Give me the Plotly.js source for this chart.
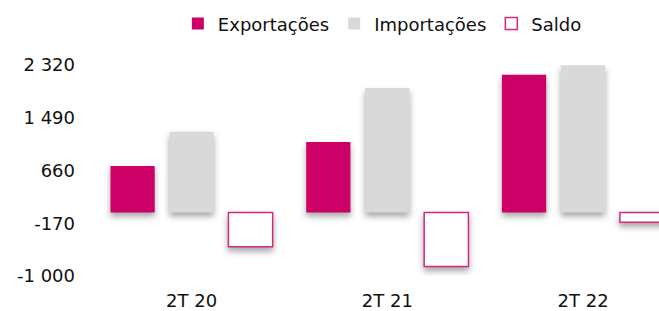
<!DOCTYPE html>
<html>
<head>
<meta charset="utf-8">
<script src="https://cdn.plot.ly/plotly-3.0.1.min.js"></script>
<style>
html,body{margin:0;padding:0;background:#fff;}
#chart{width:659px;height:311px;}
.barlayer .point path{filter:drop-shadow(0px 4px 3px rgba(0,0,0,0.35));}
</style>
</head>
<body>
<div id="chart"></div>
<script>
const categories = ['2T 20', '2T 21', '2T 22'];
const exportacoes = [730, 1110, 2165];
const importacoes = [1270, 1960, 2318];
const saldo = [-540, -850, -153];
const yTickVals = [-1000, -170, 660, 1490, 2320];
const yTickText = ['-1 000', '-170', '660', '1 490', '2 320'];

const font = {family: 'DejaVu Sans, Verdana, sans-serif', size: 18, color: '#111'};

const data = [
  {type: 'bar', name: 'Exportações', x: categories, y: exportacoes,
   marker: {color: '#CC0066', line: {width: 0}}, hoverinfo: 'skip'},
  {type: 'bar', name: 'Importações', x: categories, y: importacoes,
   marker: {color: '#D9D9D9', line: {width: 0}}, hoverinfo: 'skip'},
  {type: 'bar', name: 'Saldo', x: categories, y: saldo,
   marker: {color: '#FFFFFF', line: {color: '#D42A7C', width: 1.5}}, hoverinfo: 'skip'}
];

const layout = {
  width: 659, height: 311,
  margin: {l: 80, r: 0, t: 65, b: 35},
  paper_bgcolor: '#fff', plot_bgcolor: '#fff',
  font: font,
  barmode: 'group', bargap: 0.096, bargroupgap: 0.25,
  showlegend: true,
  legend: {orientation: 'h', x: 0.169, xanchor: 'left', y: 1.195, yanchor: 'middle',
           font: font, itemwidth: 30, bgcolor: 'rgba(0,0,0,0)'},
  xaxis: {type: 'category', range: [-0.57, 2.388], showgrid: false, zeroline: false,
          showline: false, ticks: '', ticklabelstandoff: 12, tickfont: font},
  yaxis: {range: [-1000, 2320], tickvals: yTickVals, ticktext: yTickText,
          showgrid: false, zeroline: false, showline: false, ticks: '',
          ticklabelstandoff: 4, tickfont: font}
};

Plotly.newPlot('chart', data, layout, {displayModeBar: false, staticPlot: true});
</script>
</body>
</html>
